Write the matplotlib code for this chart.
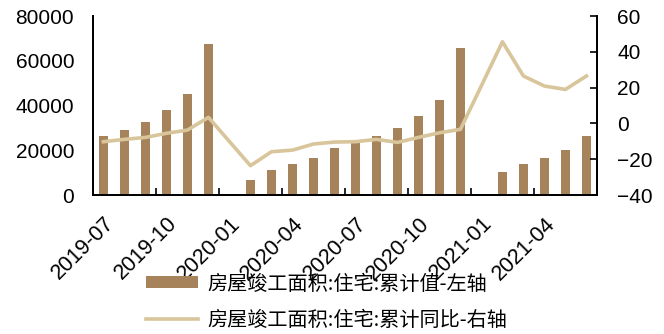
import matplotlib

matplotlib.use("Agg")
import matplotlib.pyplot as plt
import numpy as np
from matplotlib.patches import Patch
from matplotlib.lines import Line2D

plt.rcParams["font.family"] = ["Liberation Sans", "Noto Sans CJK SC", "DejaVu Sans"]

months = [
    "2019-07", "2019-08", "2019-09", "2019-10", "2019-11", "2019-12",
    "2020-01", "2020-02", "2020-03", "2020-04", "2020-05", "2020-06",
    "2020-07", "2020-08", "2020-09", "2020-10", "2020-11", "2020-12",
    "2021-01", "2021-02", "2021-03", "2021-04", "2021-05", "2021-06",
]
# 房屋竣工面积:住宅:累计值 (left axis)
completed = [
    26400, 29000, 32600, 38000, 45100, 67500,
    np.nan, 6700, 11200, 13900, 16500, 21000,
    23800, 26400, 30100, 35300, 42500, 65700,
    np.nan, 10300, 13900, 16500, 20100, 26400,
]
# 房屋竣工面积:住宅:累计同比 (right axis, %)
yoy = [
    -10.2, -8.9, -7.8, -5.5, -3.7, 3.4,
    np.nan, -23.6, -15.8, -14.9, -11.5, -10.4,
    -10.2, -8.9, -10.6, -7.8, -5.2, -3.3,
    np.nan, 45.6, 26.5, 20.9, 19.0, 26.5,
]
bar_label = "房屋竣工面积:住宅:累计值-左轴"
line_label = "房屋竣工面积:住宅:累计同比-右轴"

BAR_C = "#A6835A"
LINE_C = "#D8C59B"

x = np.arange(len(months))
yoy_arr = np.array(yoy)
ok = ~np.isnan(yoy_arr)

fig = plt.figure(figsize=(6.64, 3.34), dpi=100)
ax = fig.add_axes([0.140, 0.416, 0.759, 0.536])
ax2 = ax.twinx()

ax.bar(x, completed, width=0.4, color=BAR_C, zorder=2)
ax2.plot(x[ok], yoy_arr[ok], color=LINE_C, lw=2.6, zorder=3)

ax.set_xlim(-0.5, len(months) - 0.5)
ax.set_ylim(0, 80000)
ax.set_yticks(np.arange(0, 80001, 20000))
ax2.set_ylim(-40, 60)
ax2.set_yticks(np.arange(-40, 61, 20))

ax.set_xticks(x[::3])
ax.set_xticklabels(months[::3], rotation=45, ha="right", va="top", rotation_mode="anchor")
ax.set_xticks(np.arange(2.5, len(months) - 1, 3), minor=True)
ax.tick_params(axis="x", which="major", length=0, labelsize=15.5, pad=13)
ax.tick_params(axis="x", which="minor", direction="in", length=5, width=1.2)
ax.tick_params(axis="y", length=0, labelsize=15, pad=13.5)
ax2.tick_params(axis="y", direction="in", length=5, width=1.2, labelsize=15, pad=14.5)

for a in (ax, ax2):
    a.spines["top"].set_visible(False)
    for s in ("left", "right", "bottom"):
        a.spines[s].set_linewidth(1.3)

handles = [
    Patch(facecolor=BAR_C, edgecolor="none"),
    Line2D([0], [0], color=LINE_C, lw=2.6),
]
fig.legend(
    handles, [bar_label, line_label],
    loc="upper left", bbox_to_anchor=(0.22, 0.181),
    frameon=False, prop={"family": ["Noto Sans CJK SC"], "size": 14.5},
    handlelength=2.6, handleheight=0.55, handletextpad=0.45, labelspacing=0.75,
    borderaxespad=0, borderpad=0,
)

fig.savefig("out.png", dpi=100)
